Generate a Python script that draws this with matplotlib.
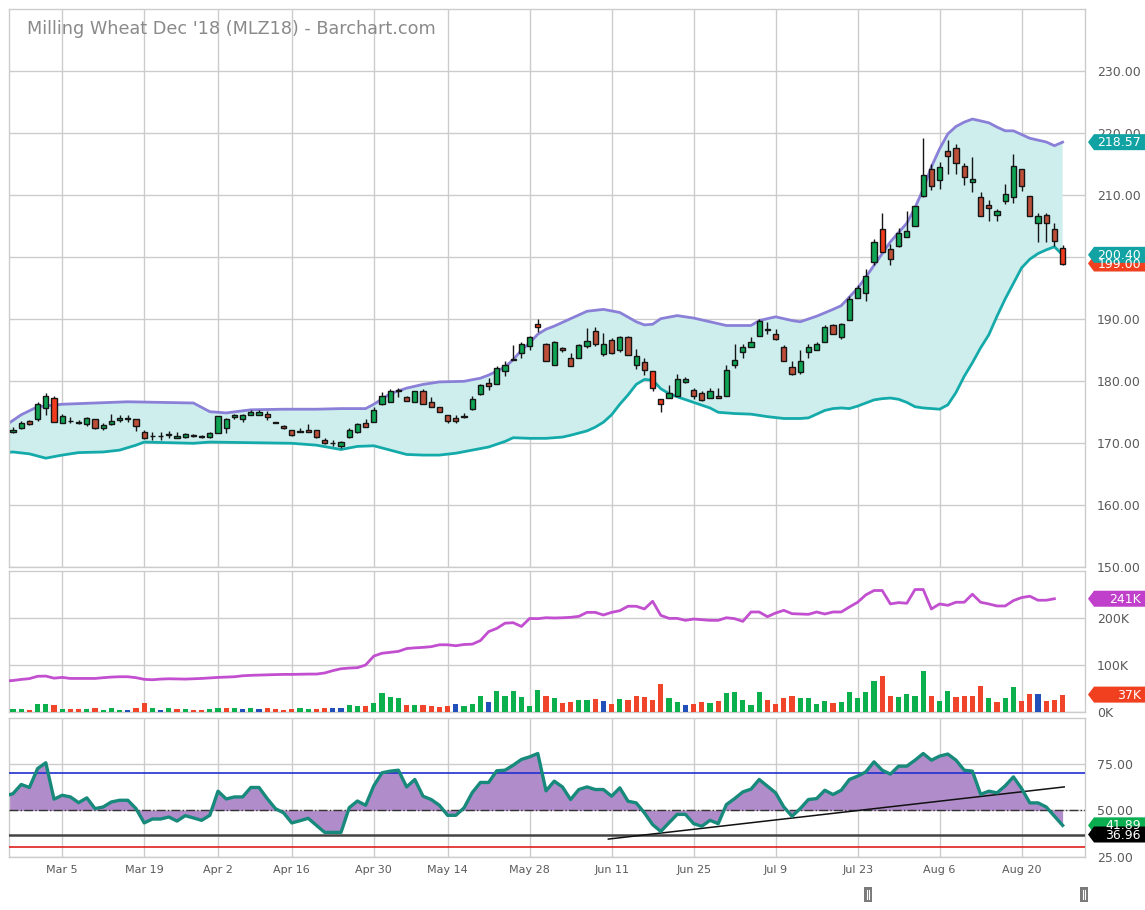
import matplotlib
matplotlib.use("Agg")
import matplotlib.pyplot as plt
from matplotlib.patches import Polygon, Rectangle
import numpy as np
import pandas as pd

# ------------------------------------------------------------------ data
title = "Milling Wheat Dec '18 (MLZ18) - Barchart.com"
holidays = ["2018-03-30", "2018-04-02", "2018-05-01"]
dates = pd.bdate_range("2018-02-23", "2018-08-27")
dates = dates[~dates.isin(pd.to_datetime(holidays))]

tick_labels = ["Mar 5", "Mar 19", "Apr 2", "Apr 16", "Apr 30", "May 14", "May 28",
               "Jun 11", "Jun 25", "Jul 9", "Jul 23", "Aug 6", "Aug 20"]
tick_dates = ["2018-03-05", "2018-03-19", "2018-04-02", "2018-04-16", "2018-04-30",
              "2018-05-14", "2018-05-28", "2018-06-11", "2018-06-25", "2018-07-09",
              "2018-07-23", "2018-08-06", "2018-08-20"]

opens = [171.8, 172.5, 173.6, 173.9, 175.7, 177.3, 173.3, 173.65, 173.3, 173.1,
         173.9, 172.5, 173.1, 173.7, 174.0, 173.9, 171.9, 171.1, 171.1, 171.4,
         170.8, 171.0, 171.2, 171.0, 171.0, 171.6, 172.4, 174.2, 174.0, 174.5,
         174.6, 174.7, 173.3, 172.8, 172.1, 171.9, 172.1, 172.2, 170.6, 170.0,
         169.5, 171.0, 171.8, 173.3, 173.5, 176.3, 176.7, 178.4, 177.5, 176.7,
         178.4, 176.6, 175.8, 174.5, 174.1, 174.2, 175.6, 178.0, 179.8, 179.5,
         181.6, 183.4, 184.5, 185.7, 189.2, 186.0, 182.7, 185.3, 183.7, 183.7,
         185.7, 188.1, 184.4, 186.6, 185.0, 187.1, 182.7, 183.1, 181.6, 177.1,
         177.3, 177.7, 179.9, 178.6, 178.1, 177.3, 177.7, 177.7, 182.7, 184.8,
         185.5, 187.3, 188.5, 187.7, 185.5, 182.3, 181.5, 184.8, 185.0, 186.4,
         189.1, 187.1, 189.9, 193.5, 194.2, 199.2, 204.6, 201.3, 201.9, 203.2,
         205.0, 209.9, 214.2, 212.4, 217.1, 217.7, 214.7, 212.2, 209.7, 208.4,
         206.9, 209.1, 209.7, 214.3, 209.9, 205.5, 206.9, 204.5, 201.5]
highs = [172.7, 173.6, 173.8, 176.7, 178.1, 177.6, 174.7, 174.3, 173.8, 174.2,
         174.0, 173.2, 174.8, 174.5, 174.5, 173.9, 172.1, 171.8, 171.8, 172.0,
         171.8, 171.7, 171.5, 171.3, 171.8, 174.4, 174.1, 174.7, 174.7, 175.3,
         175.3, 175.2, 173.4, 173.0, 172.1, 172.5, 173.1, 172.2, 170.8, 170.5,
         170.4, 172.4, 173.3, 174.0, 175.8, 178.2, 178.7, 179.0, 177.6, 178.4,
         178.7, 177.4, 175.8, 174.5, 174.6, 174.9, 177.6, 179.6, 180.5, 182.5,
         183.3, 185.9, 186.3, 187.3, 190.1, 186.2, 186.5, 185.6, 184.5, 186.0,
         188.6, 188.7, 187.8, 187.0, 187.3, 187.3, 185.2, 183.8, 181.6, 177.2,
         179.4, 181.2, 180.7, 179.0, 178.4, 178.9, 179.0, 182.6, 186.0, 186.0,
         187.1, 190.0, 189.5, 188.5, 185.9, 183.3, 185.1, 186.0, 186.4, 189.1,
         189.3, 189.4, 193.7, 195.6, 198.1, 203.0, 207.2, 202.1, 204.7, 207.5,
         208.3, 219.3, 215.1, 215.4, 219.0, 218.3, 215.2, 216.1, 210.6, 209.2,
         207.8, 211.8, 216.6, 214.3, 209.9, 207.1, 207.1, 205.6, 202.0]
lows = [171.7, 172.3, 172.9, 173.6, 174.6, 173.5, 173.3, 173.2, 173.1, 172.8,
        172.3, 172.2, 172.9, 173.4, 173.4, 172.0, 170.7, 170.5, 170.5, 170.9,
        170.8, 170.9, 171.0, 170.8, 170.9, 171.6, 171.7, 174.0, 173.5, 174.5,
        174.6, 173.7, 173.2, 172.3, 171.2, 171.8, 171.8, 170.9, 169.9, 169.5,
        169.3, 170.8, 171.6, 172.6, 173.4, 176.2, 176.7, 177.5, 176.8, 176.7,
        176.3, 175.8, 175.0, 173.2, 173.2, 174.1, 175.4, 177.8, 178.6, 179.5,
        180.9, 183.4, 183.7, 185.0, 188.0, 183.3, 182.7, 184.8, 182.4, 183.7,
        185.4, 185.7, 184.1, 184.4, 184.8, 184.2, 182.0, 181.0, 178.4, 175.0,
        177.3, 177.7, 179.7, 177.1, 176.9, 177.3, 177.3, 177.7, 182.2, 183.8,
        185.5, 187.3, 187.6, 186.7, 183.2, 181.0, 181.2, 183.7, 185.0, 186.4,
        187.7, 186.9, 189.9, 193.5, 192.9, 198.8, 200.8, 198.7, 201.7, 203.2,
        205.0, 209.8, 210.9, 211.0, 213.5, 213.5, 211.7, 210.6, 206.6, 205.9,
        205.8, 208.6, 208.7, 210.7, 206.7, 202.4, 202.4, 201.8, 198.7]
closes = [172.2, 173.3, 173.1, 176.3, 177.7, 173.5, 174.4, 173.55, 173.5, 174.0,
          172.5, 172.9, 173.6, 174.1, 174.1, 172.8, 170.8, 171.1, 171.1, 171.4,
          171.2, 171.5, 171.2, 171.0, 171.7, 174.4, 173.9, 174.5, 174.5, 175.1,
          175.1, 174.2, 173.3, 172.5, 171.3, 171.9, 171.8, 171.0, 170.1, 170.0,
          170.2, 172.2, 173.1, 172.7, 175.4, 177.7, 178.4, 178.4, 176.8, 178.4,
          176.3, 175.8, 175.0, 173.6, 173.6, 174.4, 177.1, 179.4, 179.3, 182.2,
          182.6, 183.6, 186.0, 187.1, 188.7, 183.3, 186.3, 185.0, 182.5, 185.9,
          186.5, 186.0, 186.0, 184.6, 187.1, 184.2, 184.0, 181.8, 178.9, 176.3,
          178.1, 180.3, 180.3, 177.7, 177.0, 178.4, 177.3, 181.8, 183.5, 185.5,
          186.4, 189.8, 188.2, 186.8, 183.2, 181.1, 183.3, 185.5, 186.0, 188.8,
          187.7, 189.2, 193.3, 195.0, 197.0, 202.4, 200.8, 199.7, 204.0, 204.2,
          208.3, 213.2, 211.5, 214.6, 216.4, 215.2, 212.9, 212.7, 206.7, 207.9,
          207.5, 210.2, 214.7, 211.5, 206.7, 206.7, 205.6, 202.7, 199.0]
bright_down_days = [5, 64, 78, 79, 106, 128]

# Bollinger bands (trading-day index, value)
upper_days = [-1, 1, 3, 6, 10, 14, 18, 22, 24, 26, 29, 33, 37, 40, 43, 44, 46, 48, 50, 52,
              55, 57, 58, 60, 61, 62, 63, 64, 65, 66, 68, 70, 72, 74, 76, 77, 78, 79, 81, 83,
              85, 87, 90, 91, 93, 95, 96, 98, 100, 101, 102, 103, 104, 105, 106, 107, 108,
              109, 110, 111, 112, 113, 114, 115, 116, 117, 118, 119, 120, 121, 122, 123,
              124, 125, 126, 127, 128]
upper_vals = [172.8, 174.6, 175.9, 176.3, 176.5, 176.7, 176.6, 176.5, 175.1, 174.9, 175.4,
              175.5, 175.5, 175.6, 175.6, 176.3, 178.0, 178.9, 179.5, 179.9, 180.0, 180.5,
              181.0, 182.3, 183.5, 185.0, 186.2, 187.6, 188.4, 188.9, 190.1, 191.3, 191.6,
              191.1, 189.6, 189.1, 189.2, 190.1, 190.6, 190.2, 189.6, 189.0, 189.0, 189.8,
              190.4, 189.8, 189.6, 190.5, 191.6, 192.2, 193.6, 195.0, 196.8, 198.7, 200.6,
              202.5, 204.0, 205.5, 208.0, 211.0, 214.6, 217.5, 219.9, 221.1, 221.8, 222.3,
              222.0, 221.7, 221.0, 220.4, 220.4, 219.8, 219.2, 218.9, 218.6, 218.0, 218.57]
lower_days = [-1, 0, 2, 4, 6, 8, 11, 13, 15, 16, 19, 22, 24, 29, 34, 37, 40, 42, 44, 46,
              48, 50, 52, 54, 56, 58, 60, 61, 63, 65, 67, 68, 70, 71, 72, 73, 74, 75, 76,
              77, 78, 79, 80, 81, 83, 85, 86, 88, 90, 92, 94, 96, 97, 98, 99, 100, 101, 102,
              103, 104, 105, 106, 107, 108, 109, 110, 111, 112, 113, 114, 115, 116, 117,
              118, 119, 120, 121, 122, 123, 124, 125, 126, 127, 128]
lower_vals = [168.5, 168.6, 168.3, 167.6, 168.1, 168.5, 168.6, 168.9, 169.7, 170.2, 170.1,
              170.0, 170.2, 170.1, 170.0, 169.7, 169.0, 169.5, 169.6, 168.9, 168.2, 168.1,
              168.1, 168.4, 168.9, 169.4, 170.3, 170.9, 170.8, 170.8, 171.0, 171.3, 172.0,
              172.6, 173.4, 174.6, 176.3, 177.8, 179.5, 180.3, 180.2, 178.8, 178.0, 177.5,
              176.6, 175.7, 175.0, 174.8, 174.7, 174.3, 174.0, 174.0, 174.1, 174.7, 175.3,
              175.6, 175.7, 175.6, 176.0, 176.5, 177.0, 177.2, 177.3, 177.1, 176.6, 175.9,
              175.7, 175.6, 175.5, 176.2, 178.2, 180.8, 183.0, 185.4, 187.5, 190.5, 193.3,
              195.8, 198.3, 199.7, 200.6, 201.2, 201.7, 200.4]

volume_k = [5.7, 5.7, 3.5, 16, 16, 14, 5.7, 5.7, 5.7, 5.7,
            7.8, 3.5, 7.8, 3.5, 3.5, 7.8, 18.5, 7.8, 3.5, 7.8,
            5.7, 5.7, 3.5, 3.5, 5.7, 7.8, 7.8, 7.8, 5.7, 7.8,
            5.7, 7.8, 5.7, 3.5, 5.7, 7.8, 5.7, 5.7, 7.8, 7.8,
            7.8, 14, 12, 12, 18.5, 40, 31, 29, 14, 14,
            14, 12, 10, 12, 16, 12, 16, 33, 21, 44,
            35, 44, 31, 12, 46, 33, 29, 19, 21, 25,
            25, 27, 23, 16, 27, 25, 33, 31, 25, 59,
            29, 21, 14, 16, 21, 18.5, 23, 40, 42, 25,
            14, 42, 25, 16, 29, 35, 29, 29, 16, 23,
            18.5, 21, 42, 29, 42, 65, 76, 33, 31, 38,
            33, 87, 35, 23, 44, 31, 35, 35, 55, 29,
            21, 29, 53, 23, 38, 38, 23, 25, 37]
volume_dir = list("ggrggrgrrg" "rgggbrrgbg" "rgrrggrgbg" "brrrrggrrb" "bggrggggrg"
                  "rrrrbgggbg" "gggggrgrrg" "grbrgrrrrr" "ggbrrgrggg" "ggrrrrgggg"
                  "rgggggrrgg" "ggrggrrrrg" "rggrrbrrr")

# open interest (K), days -1 .. 127
oi_k = [66, 67, 69.3, 71, 76, 76.4, 72, 73.6, 71.4, 71.4, 71.4, 71.4, 73, 74.3, 75, 75, 73,
        69.5, 68.6, 70, 70.7, 70.4, 70, 70.7, 71.4, 72.5, 73.6, 74.3, 75, 77.1, 78, 78.6,
        79, 79.6, 80, 80, 80.4, 80.7, 80.7, 83, 88, 92, 93.5, 94.3, 100, 119, 125, 127,
        129, 135, 136.5, 137.5, 139, 143, 143, 141, 143.6, 144.3, 152, 171, 177.9, 189,
        190, 182, 199, 198.6, 200.6, 200, 200.5, 201.4, 203.5, 212, 212, 206.4, 212,
        215.6, 225, 225, 219.2, 235.6, 205.6, 199.2, 199.2, 195, 197.8, 196.4, 195, 195,
        200.6, 198.6, 192.8, 212.8, 212.8, 202.8, 210.6, 216.3, 209.2, 208.5, 207.8,
        212.8, 208.5, 212.8, 212.8, 223.5, 233.5, 249.2, 258.5, 258.5, 229.9, 232.8,
        231.3, 260.6, 260.6, 219.2, 229.9, 227, 233.5, 233.5, 250.6, 233.5, 229.9, 225.6,
        225.6, 237, 243.5, 246.3, 237.8, 237.8, 241]

# RSI, days -1 .. 128
rsi = [57.6, 59.0, 63.9, 62.3, 72.5, 75.6, 56.0, 58.1, 57.2, 54.1, 56.7, 50.9, 51.8, 54.5,
       55.4, 55.4, 50.9, 43.2, 45.3, 45.3, 46.4, 44.2, 47.1, 45.9, 44.6, 47.3, 60.3, 56.1,
       57.2, 57.2, 62.3, 62.3, 56.3, 50.9, 48.6, 43.2, 44.4, 45.7, 41.9, 38.1, 38.1, 38.1,
       51.4, 55.0, 52.7, 63.2, 70.2, 71.1, 71.6, 62.6, 66.6, 57.6, 55.8, 52.7, 47.3, 47.3,
       51.3, 59.5, 65.0, 65.0, 71.3, 71.6, 74.3, 77.4, 78.8, 80.6, 60.5, 65.7, 62.6, 55.8,
       61.2, 62.6, 61.2, 61.2, 57.6, 62.1, 54.9, 54.0, 48.6, 42.3, 38.6, 43.3, 47.8, 47.8,
       42.8, 41.4, 44.6, 42.8, 53.1, 56.3, 59.9, 61.4, 66.6, 63.0, 59.4, 51.8, 46.8, 50.9,
       55.8, 56.3, 60.8, 58.5, 60.8, 66.6, 68.4, 70.7, 76.1, 71.6, 69.5, 73.8, 73.8, 77.0,
       80.6, 77.0, 79.2, 80.3, 77.0, 71.6, 71.1, 58.6, 60.3, 59.4, 63.2, 68.0, 61.7, 54.0,
       54.0, 51.8, 46.8, 41.89]
rsi_levels = {"over": 70, "mid": 50, "under": 30}
rsi_mark = 36.96
trend_days = [72.6, 128.2]
trend_vals = [34.5, 62.6]

# ------------------------------------------------------------------ style
W, H = 1145, 910
GRID = "#cccccc"
LBL = "#5a5a5a"
C_UP, C_DN, C_DN2 = "#0ea453", "#bd4f38", "#f23b1d"
V_G, V_R, V_B = "#0bb04c", "#f0452a", "#2150b8"
BB_UP, BB_LO, BB_FILL = "#8a80d8", "#15aaaa", "#cdeeed"

fig = plt.figure(figsize=(W / 100, H / 100), dpi=100)


def rect(x0, y0, x1, y1):
    return [x0 / W, 1 - y1 / H, (x1 - x0) / W, (y1 - y0) / H]


ax_p = fig.add_axes(rect(9, 9.3, 1085, 567.3))
ax_v = fig.add_axes(rect(9, 571, 1085, 712))
ax_r = fig.add_axes(rect(9, 717.5, 1085, 856.7))

n = len(closes)
x = np.arange(n)
xlim = (-0.49, 130.73)
tick_idx = [int(np.searchsorted(dates, pd.Timestamp(d))) for d in tick_dates]

for ax in (ax_p, ax_v, ax_r):
    ax.set_xlim(*xlim)
    ax.set_xticks(tick_idx)
    ax.grid(True, color=GRID, lw=1)
    ax.set_axisbelow(True)
    for s in ax.spines.values():
        s.set_color(GRID)
        s.set_linewidth(1)
    ax.yaxis.tick_right()
    ax.tick_params(axis="y", length=0, labelsize=9, labelcolor=LBL, pad=8.5)
    ax.tick_params(axis="x", length=0)

ax_p.tick_params(axis="x", labelbottom=False)
ax_v.tick_params(axis="x", labelbottom=False)
ax_r.set_xticklabels(tick_labels)
ax_r.tick_params(axis="x", labelsize=8, labelcolor=LBL, pad=6)

# ---------------- price panel
ax_p.set_ylim(150, 240)
ax_p.set_yticks(np.arange(150, 231, 10))
ax_p.set_yticklabels([f"{v:.2f}" for v in np.arange(150, 231, 10)])

ax_p.fill(np.r_[upper_days, lower_days[::-1]], np.r_[upper_vals, lower_vals[::-1]],
          color=BB_FILL, lw=0, zorder=1)
ax_p.plot(upper_days, upper_vals, color=BB_UP, lw=2, zorder=2)
ax_p.plot(lower_days, lower_vals, color=BB_LO, lw=2, zorder=2)

o, h, l, c = map(np.array, (opens, highs, lows, closes))
cols = np.where(c >= o, C_UP, C_DN).astype(object)
for d in bright_down_days:
    cols[d] = C_DN2
ax_p.vlines(x, l, h, color="#151515", lw=1.0, zorder=3)
ax_p.bar(x, np.maximum(np.abs(c - o), 0.12), bottom=np.minimum(o, c), width=0.62,
         color=list(cols), edgecolor="#151515", linewidth=1.0, zorder=4)

# ---------------- volume panel
ax_v.set_ylim(0, 300)
ax_v.set_yticks([0, 100, 200])
ax_v.set_yticklabels(["0K", "100K", "200K"])
vmap = {"g": V_G, "r": V_R, "b": V_B}
ax_v.bar(x, volume_k, width=0.62, color=[vmap[k] for k in volume_dir], zorder=3)
ax_v.plot(np.arange(-1, len(oi_k) - 1), oi_k, color="#c24fd0", lw=2, zorder=4)

# ---------------- RSI panel
ax_r.set_ylim(25, 100)
ax_r.set_yticks([25, 50, 75])
ax_r.set_yticklabels(["25.00", "50.00", "75.00"])
rx = np.arange(-1, len(rsi) - 1)
ax_r.fill_between(rx, rsi, rsi_levels["mid"], color="#b18cca", lw=0, zorder=2)
ax_r.axhline(rsi_levels["over"], color="#2030d0", lw=1.2, zorder=3)
ax_r.axhline(rsi_levels["under"], color="#e0201a", lw=1.2, zorder=3)
ax_r.axhline(rsi_levels["mid"], color="#333333", lw=1, ls="-.", zorder=3)
ax_r.axhline(rsi_mark, color="#444444", lw=1.8, zorder=3)
ax_r.plot(trend_days, trend_vals, color="#111111", lw=1.1, zorder=4)
ax_r.plot(rx, rsi, color="#178a7c", lw=2.4, zorder=5)

# ---------------- overlay (title, value tags, scroll handles)
ov = fig.add_axes([0, 0, 1, 1])
ov.set_xlim(0, W)
ov.set_ylim(H, 0)
ov.axis("off")
ov.set_zorder(10)

fig.text(27 / W, 1 - 29 / H, title, fontsize=12.7, color="#8a8a8a", va="center", ha="left")


def ypix(ax, val):
    return H - ax.transData.transform((0, val))[1]


def tag(ax, val, text, color):
    y = ypix(ax, val)
    poly = Polygon([(1088, y), (1094, y - 8), (1146, y - 8), (1146, y + 8), (1094, y + 8)],
                   closed=True, color=color, lw=0, zorder=20)
    ov.add_patch(poly)
    ov.text(1141, y + 0.5, text, color="white", fontsize=9, ha="right", va="center", zorder=21)


tag(ax_p, upper_vals[-1], f"{upper_vals[-1]:.2f}", "#11a3a3")
tag(ax_p, closes[-1], f"{closes[-1]:.2f}", "#f0401f")
tag(ax_p, lower_vals[-1], f"{lower_vals[-1]:.2f}", "#11a3a3")
tag(ax_v, oi_k[-1], f"{oi_k[-1]:.0f}K", "#c040cc")
tag(ax_v, volume_k[-1], f"{volume_k[-1]:.0f}K", "#f0401f")
tag(ax_r, rsi[-1], f"{rsi[-1]:.2f}", "#0aae50")
tag(ax_r, rsi_mark, f"{rsi_mark:.2f}", "#000000")

for hx in (864, 1080):
    ov.add_patch(Rectangle((hx, 887), 7.5, 15, color="#7a7a7a", lw=0, zorder=20))
    ov.plot([hx + 2.8, hx + 2.8], [890, 899], color="white", lw=0.8, zorder=21)
    ov.plot([hx + 4.8, hx + 4.8], [890, 899], color="white", lw=0.8, zorder=21)

fig.savefig("out.png", dpi=100)
